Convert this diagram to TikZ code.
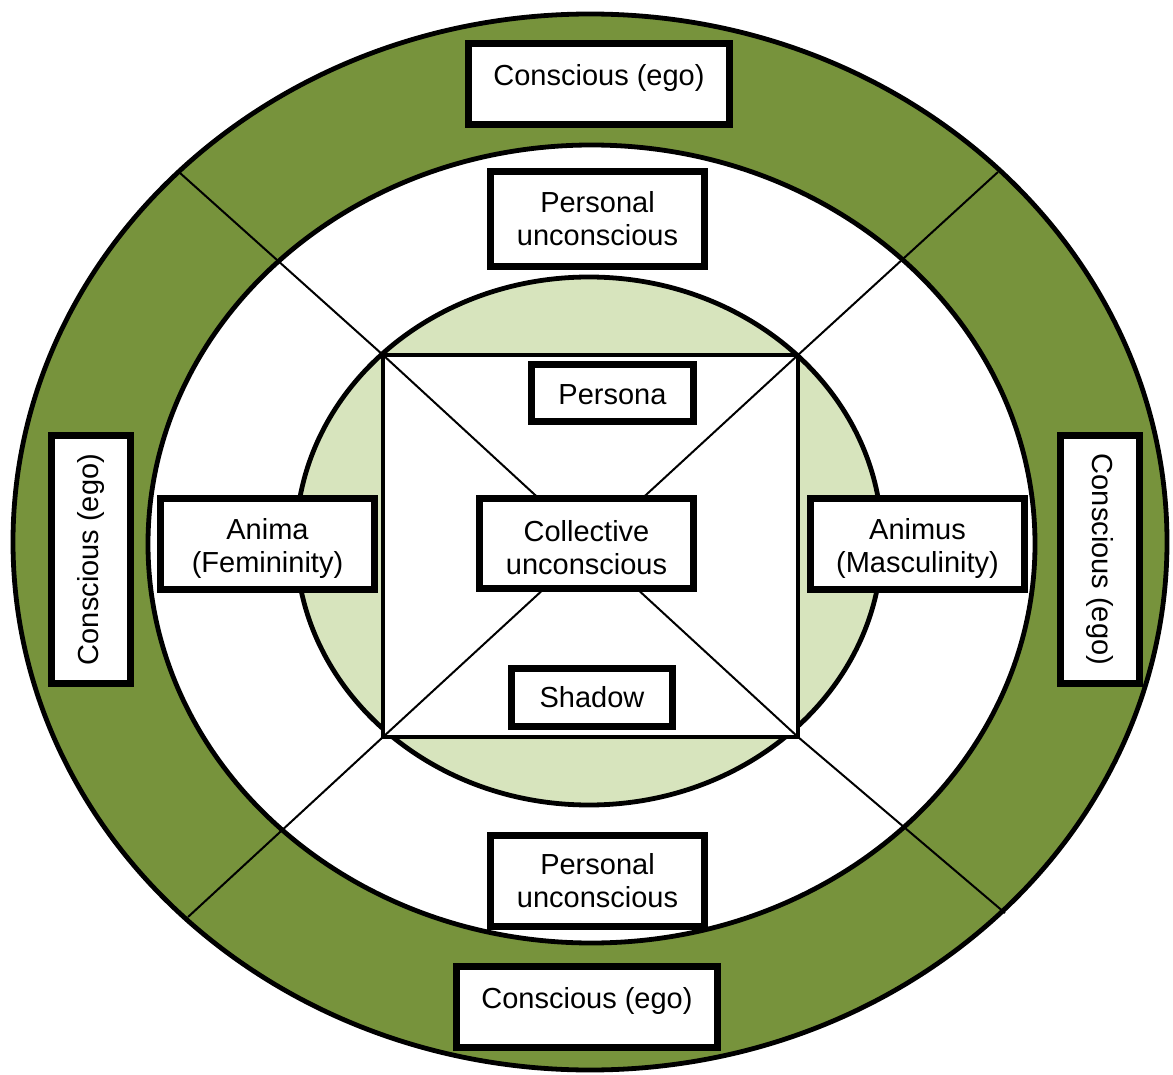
\documentclass[tikz,border=0pt]{standalone}
\usepackage{fontspec}
\setmainfont{Liberation Sans}
\definecolor{ringgreen}{HTML}{77933C}
\definecolor{coregreen}{HTML}{D7E4BD}
\tikzstyle{psyche}=[draw,line width=3.6pt,fill=white,align=center,inner sep=0pt]
\tikzstyle{egobox}=[psyche,minimum width=130.5pt,minimum height=40.5pt,text depth=9.5pt]
\tikzstyle{twoline}=[psyche,minimum width=107pt,minimum height=45.5pt]
\tikzstyle{lowtext}=[text height=31.5pt]
\tikzstyle{ring}=[draw,line width=2.4pt]
\tikzstyle{spoke}=[draw,line width=1pt]

\begin{document}
\begin{tikzpicture}[x=0.5pt,y=-0.5pt,font=\fontsize{14.5pt}{16.6pt}\selectfont]
\useasboundingbox (0,0) rectangle (1173,1075);

% rings
\path[ring,fill=ringgreen] (590,542) ellipse [x radius=288.5pt, y radius=264pt];
\path[ring,fill=white] (591.5,544) ellipse [x radius=221.75pt, y radius=199.5pt];
\path[ring,fill=coregreen] (589,541) ellipse [x radius=146.5pt, y radius=132pt];

% square and spokes
\coordinate (nw) at (383,355);
\coordinate (ne) at (798,355);
\coordinate (se) at (798,737);
\coordinate (sw) at (383,737);
\coordinate (rimnw) at (180,173);
\coordinate (rimne) at (998,172);
\coordinate (rimse) at (1005,913);
\coordinate (rimsw) at (188,917);
\path[ring,fill=white] (nw) -- (ne) -- (se) -- (sw) -- cycle;
\draw[spoke] (rimnw) -- (nw) -- (se) -- (rimse);
\draw[spoke] (rimne) -- (ne) -- (sw) -- (rimsw);

% conscious ring
\node[egobox] (egotop) at (599,84) {Conscious (ego)};
\node[egobox] (egobot) at (587,1007) {Conscious (ego)};
\node[psyche,rotate=90,minimum width=124pt,minimum height=39.5pt] (egoleft) at (91,559.5) {Conscious (ego)};
\node[psyche,rotate=-90,minimum width=124pt,minimum height=39.5pt] (egoright) at (1100,559.5) {Conscious (ego)};

% personal unconscious ring
\node[twoline,minimum height=47.5pt] (perstop) at (597.5,219) {Personal\\unconscious};
\node[twoline] (persbot) at (597.5,881) {Personal\\unconscious};
\node[twoline,lowtext] (anima) at (267.5,544) {Anima\\(Femininity)};
\node[twoline,lowtext] (animus) at (917.5,544) {Animus\\(Masculinity)};

% collective core
\node[psyche,minimum width=81pt,minimum height=28.5pt,text height=12pt] (persona) at (612.5,393) {Persona};
\node[twoline,lowtext,minimum height=45pt] (collective) at (586.5,543.5) {Collective\\unconscious};
\node[psyche,minimum width=80.5pt,minimum height=29pt] (shadow) at (592,697.5) {Shadow};
\end{tikzpicture}
\end{document}
